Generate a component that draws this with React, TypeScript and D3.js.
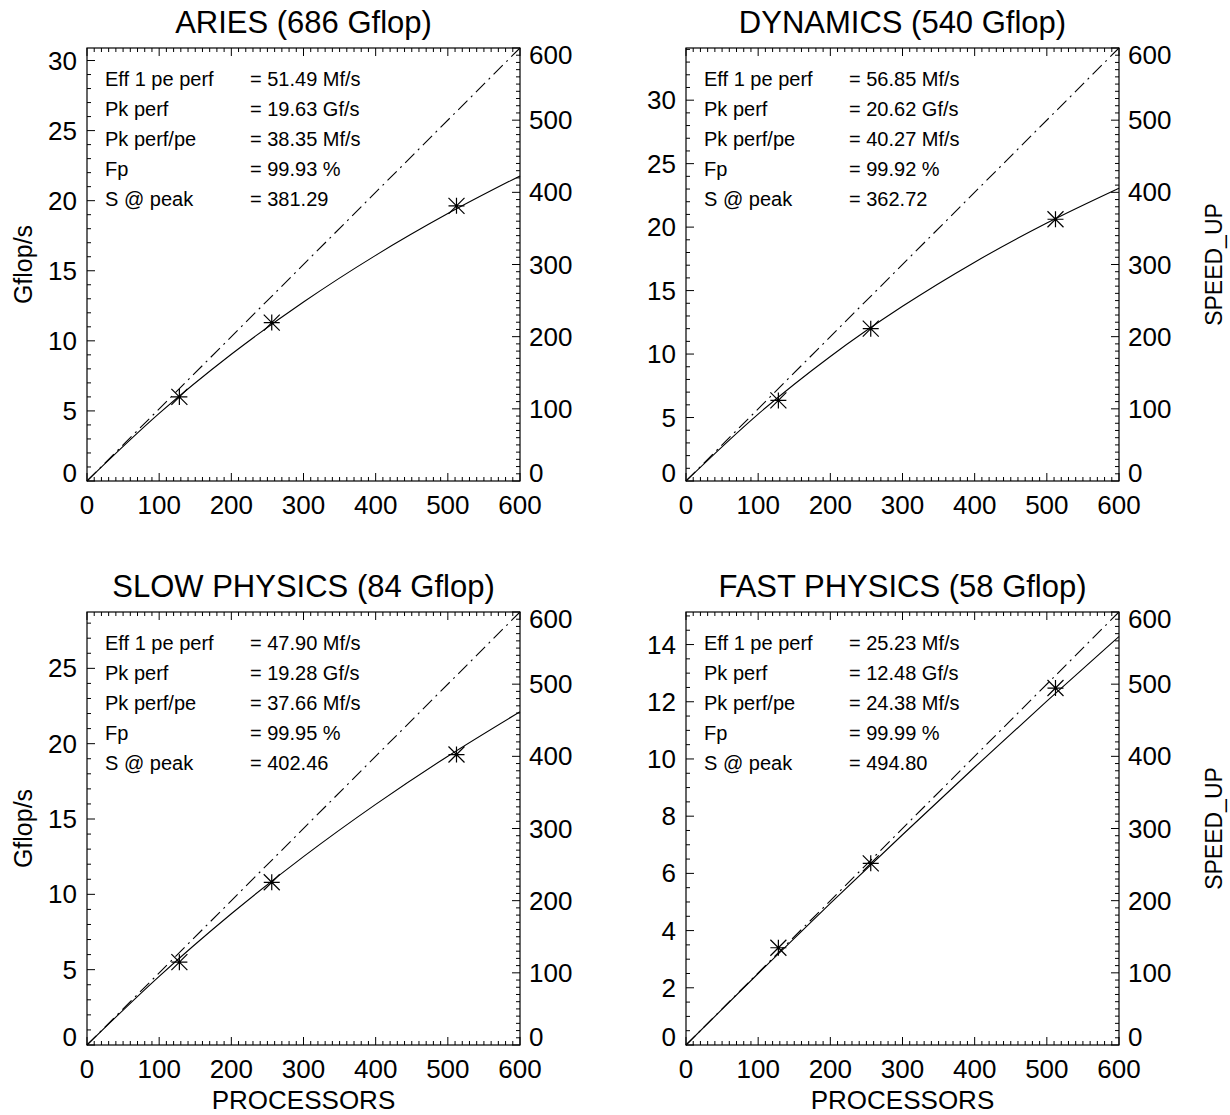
import React, { useEffect, useRef } from 'react';
import * as d3 from 'd3';

// panel data, order: ARIES, DYNAMICS, SLOW PHYSICS, FAST PHYSICS
const titles = ['ARIES (686 Gflop)', 'DYNAMICS (540 Gflop)', 'SLOW PHYSICS (84 Gflop)', 'FAST PHYSICS (58 Gflop)'];
const effPerf = [51.49, 56.85, 47.9, 25.23]; // Mf/s
const pkPerf = [19.63, 20.62, 19.28, 12.48]; // Gf/s
const pkPerfPe = [38.35, 40.27, 37.66, 24.38]; // Mf/s
const fpPct = [99.93, 99.92, 99.95, 99.99];
const speedupAtPeak = [381.29, 362.72, 402.46, 494.8];
const leftMajor = [5, 5, 5, 2];
const leftMinor = [1, 1, 1, 0.5];

const measuredProcs = [128, 256, 512];
const measuredGflops = [
  [6.0, 11.3, 19.63],
  [6.35, 12.0, 20.62],
  [5.5, 10.8, 19.28],
  [3.4, 6.35, 12.48],
];

const fitProcs = [0, 100, 200, 300, 400, 500, 600];
const fitGflops = [
  [0, 4.82, 9.04, 12.77, 16.1, 19.08, 21.77],
  [0, 5.27, 9.81, 13.76, 17.24, 20.32, 23.06],
  [0, 4.56, 8.71, 12.5, 15.97, 19.17, 22.12],
  [0, 2.5, 4.95, 7.35, 9.71, 12.02, 14.28],
];

const idealProcs = [0, 600];
const idealSpeedup = [0, 600];

const statLabels = ['Eff 1 pe perf', 'Pk perf', 'Pk perf/pe', 'Fp', 'S @ peak'];

const FONT = '"Liberation Sans", Arial, Helvetica, sans-serif';

const App = () => {
  const svgRef = useRef(null);

  useEffect(() => {
    const svg = d3.select(svgRef.current);
    svg.selectAll('*').remove();

    const size = 433;
    const origins = [
      [87, 48],
      [686, 48],
      [87, 612],
      [686, 612],
    ];

    titles.forEach((title, i) => {
      const [x0, y0] = origins[i];
      const g = svg.append('g').attr('transform', `translate(${x0},${y0})`);
      const col = i % 2;
      const row = Math.floor(i / 2);

      const x = d3.scaleLinear().domain([0, 600]).range([0, size]);
      const yL = d3.scaleLinear().domain([0, (600 * effPerf[i]) / 1000]).range([size, 0]);
      const yR = d3.scaleLinear().domain([0, 600]).range([size, 0]);

      // box
      g.append('rect')
        .attr('width', size)
        .attr('height', size)
        .attr('fill', 'none')
        .attr('stroke', '#000')
        .attr('stroke-width', 1.2);

      // x ticks (bottom + top)
      const xMinor = d3.range(0, 601, 10);
      xMinor.forEach((v) => {
        const len = v % 100 === 0 ? 8 : 4;
        const px = x(v);
        g.append('line').attr('x1', px).attr('x2', px).attr('y1', size).attr('y2', size - len)
          .attr('stroke', '#000');
        g.append('line').attr('x1', px).attr('x2', px).attr('y1', 0).attr('y2', len)
          .attr('stroke', '#000');
      });
      d3.range(0, 601, 100).forEach((v) => {
        g.append('text')
          .attr('x', x(v))
          .attr('y', size + 33)
          .attr('text-anchor', 'middle')
          .attr('font-size', 26)
          .text(v);
      });

      // left axis ticks
      const top = yL.domain()[1];
      const nMinor = Math.floor(top / leftMinor[i] + 1e-6);
      d3.range(0, nMinor + 1).forEach((k) => {
        const v = k * leftMinor[i];
        const major = Math.abs(v / leftMajor[i] - Math.round(v / leftMajor[i])) < 1e-6;
        const py = yL(v);
        g.append('line').attr('x1', 0).attr('x2', major ? 8 : 4).attr('y1', py).attr('y2', py)
          .attr('stroke', '#000');
        if (major) {
          const cy = Math.max(7, Math.min(size - 8, py));
          g.append('text')
            .attr('x', -10)
            .attr('y', cy)
            .attr('dy', '0.35em')
            .attr('text-anchor', 'end')
            .attr('font-size', 26)
            .text(v);
        }
      });

      // right axis ticks
      d3.range(0, 601, 10).forEach((v) => {
        const major = v % 100 === 0;
        const py = yR(v);
        g.append('line').attr('x1', size).attr('x2', size - (major ? 8 : 4)).attr('y1', py).attr('y2', py)
          .attr('stroke', '#000');
        if (major) {
          const cy = Math.max(7, Math.min(size - 8, py));
          g.append('text')
            .attr('x', size + 9)
            .attr('y', cy)
            .attr('dy', '0.35em')
            .attr('text-anchor', 'start')
            .attr('font-size', 26)
            .text(v);
        }
      });

      // ideal speedup (dash-dot)
      const idealLine = d3.line()
        .x((d) => x(d[0]))
        .y((d) => yR(d[1]));
      g.append('path')
        .attr('d', idealLine(idealProcs.map((p, k) => [p, idealSpeedup[k]])))
        .attr('fill', 'none')
        .attr('stroke', '#000')
        .attr('stroke-width', 1.1)
        .attr('stroke-dasharray', '13,5,2,5');

      // fitted curve
      const fitLine = d3.line()
        .x((d) => x(d[0]))
        .y((d) => yL(d[1]))
        .curve(d3.curveMonotoneX);
      g.append('path')
        .attr('d', fitLine(fitProcs.map((p, k) => [p, fitGflops[i][k]])))
        .attr('fill', 'none')
        .attr('stroke', '#000')
        .attr('stroke-width', 1.1);

      // measured points (asterisks)
      measuredProcs.forEach((p, k) => {
        const cx = x(p);
        const cy = yL(measuredGflops[i][k]);
        const r = 8;
        const path = `M${cx - r},${cy}L${cx + r},${cy}M${cx},${cy - r}L${cx},${cy + r}` +
          `M${cx - r},${cy - r}L${cx + r},${cy + r}M${cx - r},${cy + r}L${cx + r},${cy - r}`;
        g.append('path').attr('d', path).attr('stroke', '#000').attr('stroke-width', 1.2);
      });

      // stats
      const values = [
        `= ${effPerf[i].toFixed(2)} Mf/s`,
        `= ${pkPerf[i].toFixed(2)} Gf/s`,
        `= ${pkPerfPe[i].toFixed(2)} Mf/s`,
        `= ${fpPct[i].toFixed(2)} %`,
        `= ${speedupAtPeak[i].toFixed(2)}`,
      ];
      statLabels.forEach((lab, k) => {
        g.append('text').attr('x', 18).attr('y', 38 + k * 30).attr('font-size', 20).text(lab);
        g.append('text').attr('x', 163).attr('y', 38 + k * 30).attr('font-size', 20).text(values[k]);
      });

      // title
      g.append('text')
        .attr('x', size / 2)
        .attr('y', -15)
        .attr('text-anchor', 'middle')
        .attr('font-size', 31)
        .text(title);

      if (row === 1) {
        g.append('text')
          .attr('x', size / 2)
          .attr('y', size + 64)
          .attr('text-anchor', 'middle')
          .attr('font-size', 26)
          .text('PROCESSORS');
      }
      if (col === 0) {
        g.append('text')
          .attr('transform', `translate(${32 - x0},${size / 2}) rotate(-90)`)
          .attr('text-anchor', 'middle')
          .attr('font-size', 25)
          .text('Gflop/s');
      } else {
        g.append('text')
          .attr('transform', `translate(${1222 - x0},${size / 2}) rotate(-90)`)
          .attr('text-anchor', 'middle')
          .attr('font-size', 23)
          .text('SPEED_UP');
      }
    });
  }, []);

  return (
    <svg
      ref={svgRef}
      width={1230}
      height={1115}
      style={{ position: 'absolute', left: 0, top: 0, background: '#fff', fontFamily: FONT }}
    />
  );
};

export default App;
